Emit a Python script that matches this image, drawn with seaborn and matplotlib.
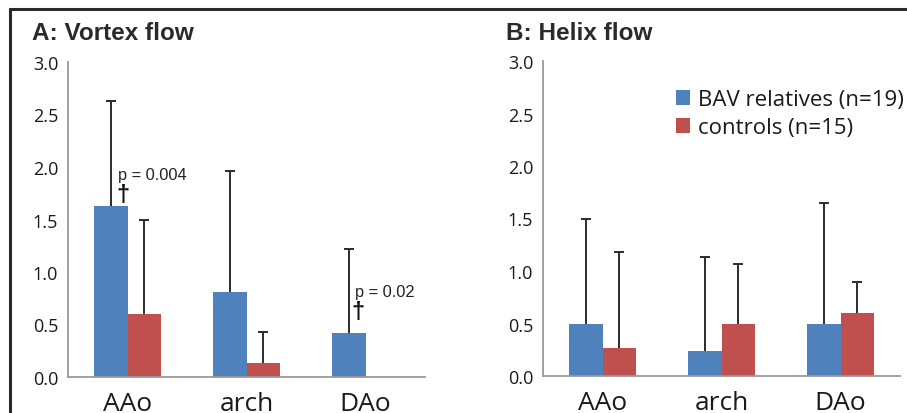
import numpy as np
import pandas as pd
import matplotlib
matplotlib.use("Agg")
import matplotlib.pyplot as plt
import seaborn as sns
from matplotlib.lines import Line2D
from matplotlib.ticker import FormatStrFormatter

# data (mean and upper SD)
sites = ["AAo", "arch", "DAo"]
groups = ["BAV relatives (n=19)", "controls (n=15)"]

vortex_bav = [1.63, 0.81, 0.42]
vortex_bav_sd = [1.00, 1.15, 0.80]
vortex_ctrl = [0.60, 0.13, 0.00]
vortex_ctrl_sd = [0.90, 0.30, 0.00]

helix_bav = [0.50, 0.24, 0.50]
helix_bav_sd = [1.00, 0.89, 1.15]
helix_ctrl = [0.27, 0.50, 0.60]
helix_ctrl_sd = [0.91, 0.57, 0.30]

colors = ["#4F81BD", "#C0504D"]
axis_grey = "#9a9a9a"


def make_frame(bav, ctrl):
    """long table for seaborn"""
    return pd.DataFrame({
        "site": sites * 2,
        "group": [groups[0]] * 3 + [groups[1]] * 3,
        "value": bav + ctrl,
    })


def draw_panel(ax, bav, bav_sd, ctrl, ctrl_sd, legend):
    df = make_frame(bav, ctrl)
    sns.barplot(data=df, x="site", y="value", hue="group", hue_order=groups,
                palette=colors, width=0.57, errorbar=None, linewidth=0,
                saturation=1, legend=legend, ax=ax)

    # upper-only error bars on top of each bar
    for cont, sd in zip(ax.containers, [bav_sd, ctrl_sd]):
        for bar, s in zip(cont, sd):
            if s <= 0:
                continue
            xc = bar.get_x() + bar.get_width() / 2
            h = bar.get_height()
            eb = ax.errorbar(xc, h, yerr=[[0], [s]], fmt="none", ecolor="#2b2b2b",
                             elinewidth=1.4, capsize=3.6, capthick=1.4, zorder=3)
            # drop the cap at the bar top, keep only the upper one
            eb[1][0].set_visible(False)

    ax.set_ylim(0, 3.0)
    ax.set_xlim(-0.5, 2.5)
    ax.set_yticks(np.arange(0, 3.01, 0.5))
    ax.yaxis.set_major_formatter(FormatStrFormatter("%.1f"))
    ax.set_xlabel("")
    ax.set_ylabel("")
    for side in ["top", "right"]:
        ax.spines[side].set_visible(False)
    for side in ["left", "bottom"]:
        ax.spines[side].set_color(axis_grey)
        ax.spines[side].set_linewidth(1.3)
    ax.tick_params(axis="y", length=4, width=1.2, color=axis_grey,
                   labelsize=13, pad=3, labelcolor="#1a1a1a")
    ax.tick_params(axis="x", length=4, width=1.2, color=axis_grey,
                   labelsize=19, pad=6, labelcolor="#1a1a1a")
    for lab in ax.get_yticklabels() + ax.get_xticklabels():
        lab.set_fontfamily("Open Sans")


sns.set_style("white")
plt.rcParams["font.family"] = ["Liberation Sans", "DejaVu Sans"]

fig = plt.figure(figsize=(9.07, 4.14), dpi=100)
fig.patch.set_linewidth(0)
W, H = 907, 414
axA = fig.add_axes([68 / W, 36 / H, 357 / W, 315 / H])
axB = fig.add_axes([543 / W, 37 / H, 357 / W, 315 / H])

draw_panel(axA, vortex_bav, vortex_bav_sd, vortex_ctrl, vortex_ctrl_sd, False)
draw_panel(axB, helix_bav, helix_bav_sd, helix_ctrl, helix_ctrl_sd, True)

# significance marks in panel A
axA.text(-0.08, 1.93, "p = 0.004", fontsize=11.8, va="center", ha="left", color="#222222")
axA.text(-0.04, 1.74, "\u2020", fontsize=17, fontweight="bold", va="center", ha="center", color="#111111")
axA.text(1.91, 0.81, "p = 0.02", fontsize=11.8, va="center", ha="left", color="#222222")
axA.text(1.94, 0.62, "\u2020", fontsize=17, fontweight="bold", va="center", ha="center", color="#111111")

# legend
sns.move_legend(axB, "upper left", bbox_to_anchor=(676 / W, 1 - 90 / H),
                bbox_transform=fig.transFigure, frameon=False, title=None,
                fontsize=16, handlelength=0.65, handleheight=0.65,
                handletextpad=0.35, labelspacing=0.32, borderpad=0,
                borderaxespad=0)
for t in axB.get_legend().get_texts():
    t.set_fontfamily("Open Sans")
    t.set_color("#1a1a1a")

# panel titles
fig.text(32 / W, 1 - 33 / H, "A: Vortex flow", fontsize=17.5, fontweight="bold",
         va="center", ha="left", color="#2a2a2a")
fig.text(506 / W, 1 - 33 / H, "B: Helix flow", fontsize=17.5, fontweight="bold",
         va="center", ha="left", color="#2a2a2a")

# dark frame along the top and left edge
fig.add_artist(Line2D([10 / W, 10 / W], [0, 1 - 10 / H], transform=fig.transFigure,
                      color="#2a2a2a", linewidth=2.2))
fig.add_artist(Line2D([10 / W, 1], [1 - 10 / H, 1 - 10 / H], transform=fig.transFigure,
                      color="#2a2a2a", linewidth=2.2))

fig.savefig("out.png", dpi=100)
